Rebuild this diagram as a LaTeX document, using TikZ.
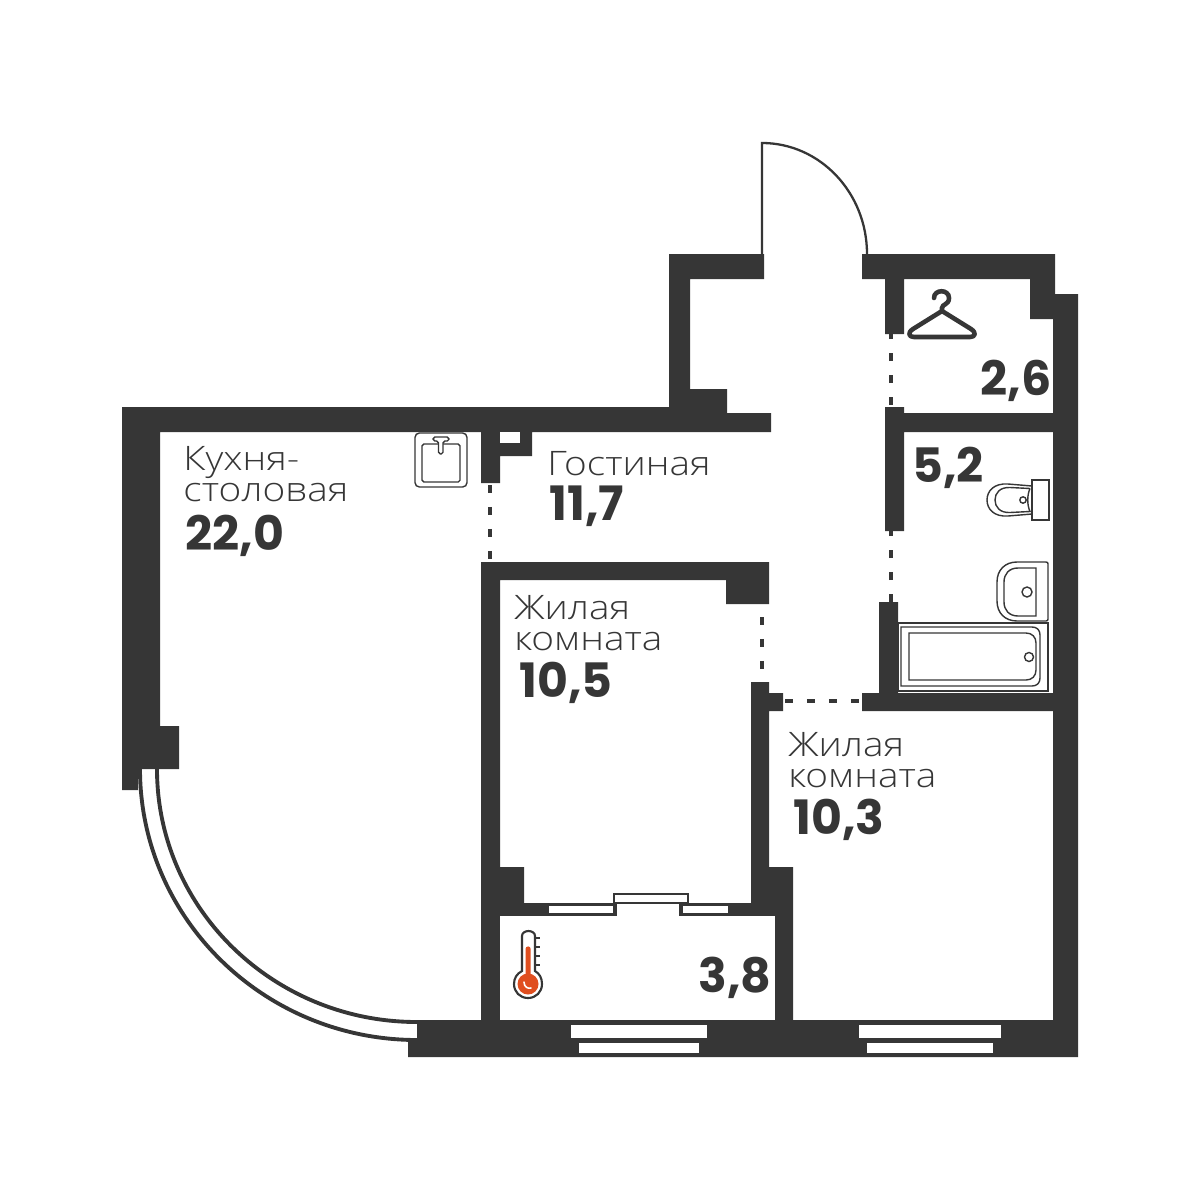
\documentclass[tikz,border=0pt]{standalone}
\usepackage{fontspec}
\setmainfont[FakeStretch=1.15]{Open Sans Light}
\newfontfamily\numfont{Poppins Bold}
\definecolor{wallc}{HTML}{363636}
\definecolor{thermo}{HTML}{E04E1F}
\tikzset{
  x=0.02cm,y=-0.02cm,
  wall/.style={fill=wallc,draw=none},
  glass/.style={fill=white,draw=none},
  frame/.style={draw=wallc,line width=1.5pt,fill=white},
  fixture/.style={draw=wallc,line width=0.8pt,fill=white},
  fixturein/.style={draw=wallc,line width=0.8pt},
  opening/.style={draw=wallc,line width=1.8pt,line cap=butt,dash pattern=on 4.54pt off 7.94pt},
  balconyline/.style={draw=wallc,line width=2.2pt},
  roomname/.style={anchor=base west,inner sep=0pt,text=wallc,font=\fontsize{19.2}{17.6}\selectfont,align=left},
  area/.style={anchor=base west,inner sep=0pt,text=wallc,font=\numfont\fontsize{27}{27}\selectfont},
}
\begin{document}
\begin{tikzpicture}
\useasboundingbox (0,0) rectangle (1200,1200);
% balcony arcs
\draw[balconyline] (157,765) -- (157,769) .. controls (157,908.7) and (273.4,1022) .. (417,1022);
\draw[balconyline] (140,765) -- (140,769) .. controls (140,918.1) and (264,1040) .. (417,1040);
% walls
\fill[wall] (122,407) -- (669,407) -- (669,254) -- (764,254) -- (764,279) -- (690,279) -- (690,389) -- (727,389) -- (727,413) -- (771,413) -- (771,432)
  -- (532,432) -- (532,456) -- (500,456) -- (500,483) -- (481,483) -- (481,432) -- (160,432) -- (160,726) -- (179,726) -- (179,769) -- (138,769) -- (138,790) -- (122,790) -- cycle;
\fill[white] (500,432) rectangle (520,443);
% entry / right wall
\fill[wall] (862,254) -- (1055,254) -- (1055,294) -- (1078,294) -- (1078,1057) -- (408,1057) -- (408,1038) -- (417,1038) -- (417,1020) -- (481,1020)
  -- (481,562) -- (769,562) -- (769,604) -- (726,604) -- (726,580) -- (500,580) -- (500,867) -- (524,867) -- (524,903) -- (751,903) -- (751,682) -- (769,682) -- (769,693) -- (783,693) -- (783,711) -- (769,711) -- (769,867) -- (793,867) -- (793,1020) -- (1053,1020)
  -- (1053,711) -- (862,711) -- (862,693) -- (879,693) -- (879,602) -- (898,602) -- (898,693) -- (1053,693) -- (1053,432) -- (904,432) -- (904,531) -- (885,531) -- (885,407) -- (904,407) -- (904,413) -- (1053,413) -- (1053,319) -- (1030,319) -- (1030,279) -- (904,279) -- (904,334) -- (885,334) -- (885,279) -- (862,279) -- cycle;
% balcony room
\fill[white] (500,916) rectangle (775,1020);
% windows, balcony door
\fill[glass] (549,906) rectangle (613,913);
\fill[glass] (617,916) rectangle (679,903);
\fill[glass] (683,906) rectangle (728,913);
\draw[frame] (614,903) rectangle (688,894);
\draw[wallc,line width=1.2pt] (615,903) -- (615,915) (681,903) -- (681,915);
\fill[glass] (571,1025) rectangle (707,1038);
\fill[glass] (579,1043) rectangle (699,1053);
\fill[glass] (859,1025) rectangle (1001,1038);
\fill[glass] (867,1043) rectangle (993,1053);
% openings
\draw[opening] (891,405) -- (891,334);
\draw[opening] (891,602) -- (891,531);
\draw[opening] (490,485) -- (490,562);
\draw[opening] (762,617) -- (762,682);
\draw[opening] (785,701) -- (862,701);
% door
\draw[wallc,line width=1.3pt] (762,254) -- (762,143) .. controls (820,143) and (867,192.7) .. (867,254);
% sink
\draw[fixture,rounded corners=2.5pt] (415,433) rectangle (467,487);
\draw[fixture,rounded corners=1pt] (422,444) rectangle (460,482);
\draw[fixture,rounded corners=1pt] (433,437) -- (449,437) -- (449,441) -- (443,441) -- (443,454) -- (438.5,454) -- (438.5,441) -- (433,441) -- cycle;
% toilet
\draw[fixture] (1032,486) -- (1008,484) .. controls (994,483) and (987,491) .. (987,500) .. controls (987,509) and (994,517) .. (1008,516) -- (1032,514);
\draw[fixturein] (1030,488.5) -- (1010,487.5) .. controls (1000,487) and (995,493) .. (995,500) .. controls (995,507) and (1000,513) .. (1010,512.5) -- (1030,511.5) .. controls (1027,505) and (1027,495) .. (1030,488.5);
\draw[fixture] (1032,480) rectangle (1049,520);
\draw[fixturein] (1023,500) circle[radius=3.2];
% basin
\draw[fixture] (1046,562) -- (1017,562) .. controls (1005,562) and (997,570) .. (997,582) -- (997,601) .. controls (997,613) and (1005,621) .. (1017,621) -- (1046,621) .. controls (1047.5,621) and (1048,620) .. (1048,619) -- (1048,564) .. controls (1048,563) and (1047.5,562) .. (1046,562) -- cycle;
\draw[fixturein] (1036,568) -- (1018,568) .. controls (1009,568) and (1004,574) .. (1004,582) -- (1004,602) .. controls (1004,610) and (1009,616) .. (1018,616) -- (1036,616) -- cycle;
\draw[fixturein] (1027,592) circle[radius=5];
% bath
\draw[fixture] (898,623) rectangle (1048,691);
\draw[fixturein] (901,627) -- (1032,627) .. controls (1037,627) and (1040,630) .. (1040,635) -- (1040,678) .. controls (1040,683) and (1037,686) .. (1032,686) -- (901,686) -- cycle;
\draw[fixturein] (909,633) -- (1026,633) .. controls (1032,633) and (1036,637) .. (1036,643) -- (1036,670) .. controls (1036,676) and (1032,680) .. (1026,680) -- (909,680) -- cycle;
\draw[fixturein,fill=white] (1029,657) circle[radius=4.5];
% hanger
\draw[wallc,line width=2.6pt,line join=round] (942,311) -- (971,329) .. controls (977,333) and (975,337) .. (970,337) -- (914,337) .. controls (909,337) and (907,333) .. (913,329) -- cycle;
\draw[wallc,line width=2.6pt,line cap=round] (942,311) -- (942,308) .. controls (942,304) and (949,305) .. (949,298) .. controls (949,289) and (934,289) .. (934,298);
% thermometer
\draw[wallc,line width=1.2pt,fill=white] (522,971) -- (522,936) .. controls (522,933) and (525,931) .. (528.5,931) .. controls (532,931) and (535,933) .. (535,936) -- (535,971) .. controls (539.5,973.5) and (542,978) .. (542,984) .. controls (542,992) and (536,998) .. (528,998) .. controls (520,998) and (514,992) .. (514,984) .. controls (514,978) and (517,973.5) .. (522,971) -- cycle;
\draw[wallc,line width=1pt] (535,938) -- (540,938) (535,947) -- (540,947) (535,956) -- (540,956) (535,965) -- (540,965);
\fill[thermo] (525.5,975) -- (525.5,949) arc[start angle=180,end angle=360,radius=2.6] -- (530.7,975) -- cycle;
\fill[thermo] (528,984) circle[radius=10.5];
\draw[white,line width=0.9pt,line cap=round] (524,982) .. controls (524,987) and (528,989) .. (531,988);
% labels
\node[roomname] (kn) at (183,501) {Кухня-\\столовая};
\node[area] (ka) at (185,550) {22,0};
\node[roomname] (gn) at (547,475) {Гостиная};
\node[area] (ga) at (549,520) {11,7};
\node[roomname] (j1n) at (514,650) {Жилая\\комната};
\node[area] (j1a) at (519,697) {10,5};
\node[roomname] (j2n) at (788,787) {Жилая\\комната};
\node[area] (j2a) at (793,834) {10,3};
\node[area] (c) at (980,395) {2,6};
\node[area] (b) at (912,482) {5,2};
\node[area] (l) at (698,992) {3,8};
\end{tikzpicture}
\end{document}
